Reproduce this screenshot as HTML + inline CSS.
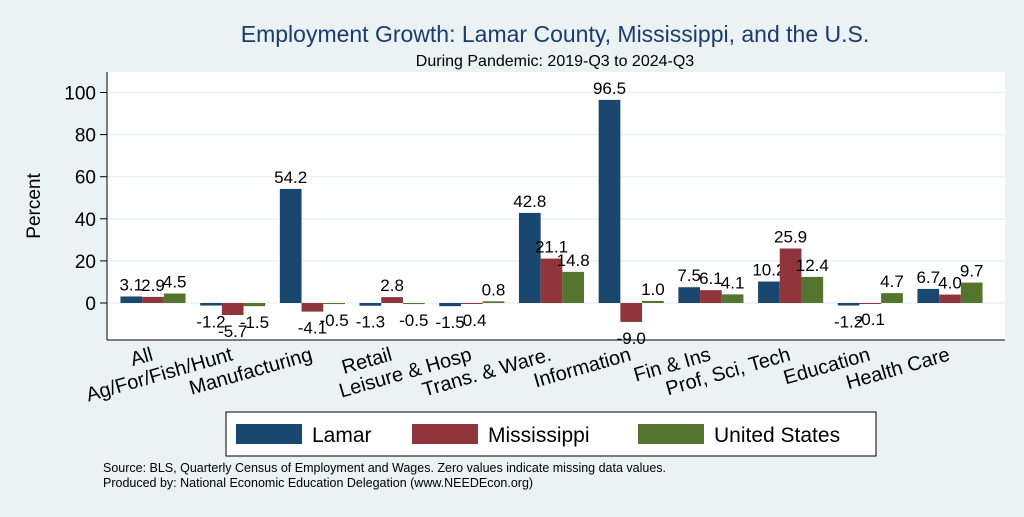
<!DOCTYPE html>
<html><head><meta charset="utf-8"><style>
body{margin:0;background:#eaf2f3;font-family:"Liberation Sans",Arial,sans-serif}
svg text{font-family:"Liberation Sans",Arial,sans-serif}
</style></head><body>
<svg id="c" width="1024" height="512" xmlns="http://www.w3.org/2000/svg">
<rect x="0" y="0" width="1024" height="512" fill="#eaf2f3"/>
<rect x="107" y="72" width="898" height="268" fill="#fff"/>
<text x="555" y="42" font-size="23" fill="#1a3b6b" text-anchor="middle">Employment Growth: Lamar County, Mississippi, and the U.S.</text>
<text x="555" y="66" font-size="16" fill="#000" text-anchor="middle">During Pandemic: 2019-Q3 to 2024-Q3</text>
<text transform="translate(40,206) rotate(-90)" font-size="19" text-anchor="middle">Percent</text>
<g id="g"></g>
<g>
<rect x="226" y="412" width="650" height="44" fill="#fff" stroke="#000" stroke-width="1"/>
<rect x="236" y="424" width="66" height="20" fill="#1a476f"/>
<text x="312" y="442" font-size="21">Lamar</text>
<rect x="412" y="424" width="66" height="20" fill="#90353b"/>
<text x="488" y="442" font-size="21">Mississippi</text>
<rect x="638" y="424" width="66" height="20" fill="#55752f"/>
<text x="714" y="442" font-size="21">United States</text>
</g>
<text x="103" y="472" font-size="12.5">Source: BLS, Quarterly Census of Employment and Wages. Zero values indicate missing data values.</text>
<text x="103" y="487" font-size="12.5">Produced by: National Economic Education Delegation (www.NEEDEcon.org)</text>
</svg>
<script>
const categories=["All","Ag/For/Fish/Hunt","Manufacturing","Retail","Leisure & Hosp","Trans. & Ware.","Information","Fin & Ins","Prof, Sci, Tech","Education","Health Care"];
const lamar=[3.1,-1.2,54.2,-1.3,-1.5,42.8,96.5,7.5,10.2,-1.2,6.7];
const mississippi=[2.9,-5.7,-4.1,2.8,-0.4,21.1,-9.0,6.1,25.9,-0.1,4.0];
const unitedStates=[4.5,-1.5,-0.5,-0.5,0.8,14.8,1.0,4.1,12.4,4.7,9.7];
const yTicks=[0,20,40,60,80,100];
const NS="http://www.w3.org/2000/svg";
const g=document.getElementById('g');
const y=v=>303-v*2.105;
const xc=i=>153+i*79.7;
function mk(t,a){const e=document.createElementNS(NS,t);for(const k in a)e.setAttribute(k,a[k]);g.appendChild(e);return e;}
yTicks.forEach(t=>{
  const l=mk('line',{x1:107,x2:1005,y1:y(t),y2:y(t),stroke:'#eaf2f3','stroke-width':1.5});
  
  
  const k=mk('line',{x1:100,x2:107,y1:y(t),y2:y(t),stroke:'#000'});
  
  
  const tx=mk('text',{x:96,y:y(t)+7,'font-size':19,'text-anchor':'end'});tx.textContent=t;
  
  
});
const ax=mk('line',{x1:107,x2:107,y1:72,y2:340,stroke:'#000'});


const bx=mk('line',{x1:107,x2:1005,y1:340,y2:340,stroke:'#000'});


const series=[[lamar,'#1a476f','lamar'],[mississippi,'#90353b','mississippi'],[unitedStates,'#55752f','us']];
const bw=21.7;
categories.forEach((c,i)=>{
  series.forEach(([arr,col,nm],s)=>{
    const v=arr[i];const x0=xc(i)-1.5*bw+s*bw;
    const r=mk('rect',{x:x0,y:Math.min(y(v),y(0)),width:bw,height:Math.max(1,Math.abs(y(v)-y(0))),fill:col});
    
    
    const ty=v>=0?y(v)-6:y(v)+22;
    const t=mk('text',{x:x0+bw/2,y:ty,'font-size':17,'text-anchor':'middle'});t.textContent=v.toFixed(1);
    
    
  });
  const lt=mk('text',{transform:`translate(${xc(i)+1},${360}) rotate(-16)`,'font-size':20,'text-anchor':'end'});lt.textContent=c;
  
  
});
</script>
</body></html>
